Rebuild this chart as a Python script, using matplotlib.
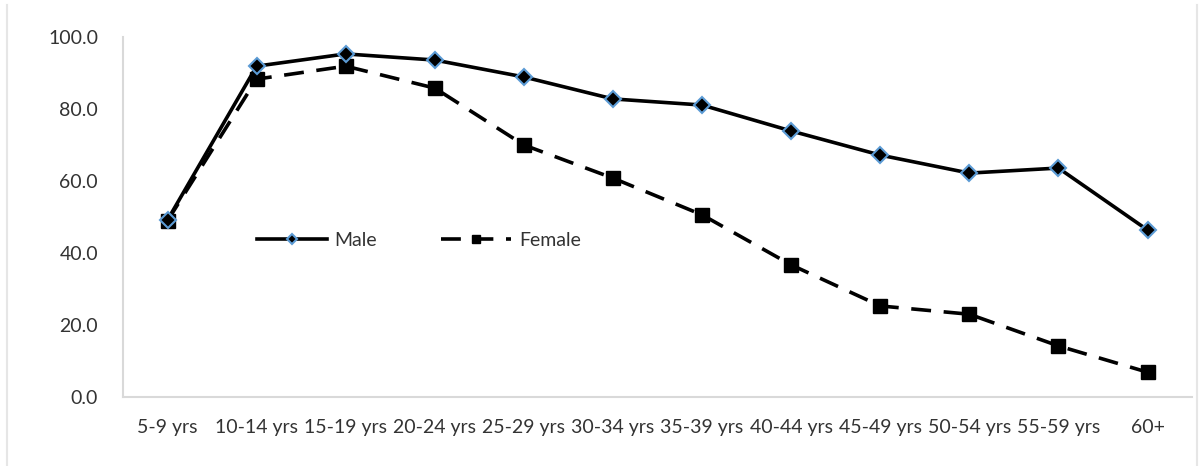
import matplotlib.pyplot as plt
from matplotlib.lines import Line2D

# Data
age_groups = ["5-9 yrs", "10-14 yrs", "15-19 yrs", "20-24 yrs", "25-29 yrs",
              "30-34 yrs", "35-39 yrs", "40-44 yrs", "45-49 yrs", "50-54 yrs",
              "55-59 yrs", "60+"]
male = [49.2, 91.9, 95.3, 93.6, 88.9, 82.8, 81.1, 73.9, 67.2, 62.2, 63.6, 46.4]
female = [49.0, 88.3, 91.9, 85.8, 70.0, 60.8, 50.6, 36.7, 25.3, 23.0, 14.2, 6.9]
y_ticks = [0, 20, 40, 60, 80, 100]

plt.rcParams['font.family'] = ['Lato', 'DejaVu Sans']

fig = plt.figure(figsize=(11.99, 4.66), dpi=100)
ax = fig.add_axes([0.1026, 0.148, 0.8916, 0.7726])

x = range(len(age_groups))
ax.plot(x, male, color='black', linestyle='-', linewidth=2.6, marker='D',
        markersize=8, markerfacecolor='black', markeredgecolor='#5b9bd5',
        markeredgewidth=1.5, label='Male', zorder=3)
ax.plot(x, female, color='black', linestyle=(0, (5.5, 3.5)), linewidth=2.6,
        marker='s', markersize=10, markerfacecolor='black',
        markeredgecolor='black', label='Female', zorder=2)

ax.set_xlim(-0.5, len(age_groups) - 0.5)
ax.set_ylim(0, 100)
ax.set_xticks(list(x))
ax.set_xticklabels(age_groups)
ax.set_yticks(y_ticks)
ax.set_yticklabels([f"{v:.1f}" for v in y_ticks])
ax.tick_params(axis='x', length=0, pad=16, labelsize=14, labelcolor='#333333')
ax.tick_params(axis='y', length=0, pad=18, labelsize=14, labelcolor='#333333')

for side in ['top', 'right']:
    ax.spines[side].set_visible(False)
for side in ['left', 'bottom']:
    ax.spines[side].set_color('#d9d9d9')
    ax.spines[side].set_linewidth(1.5)

leg = ax.legend(loc='center left', bbox_to_anchor=(0.125, 0.436), ncol=2,
                frameon=False, fontsize=14, handlelength=3.6,
                handletextpad=0.4, columnspacing=3.3, markerscale=0.6,
                borderpad=0, borderaxespad=0)
for t in leg.get_texts():
    t.set_color('#333333')

# faint outer chart border
for xf in [7 / 1199, 1197 / 1199]:
    fig.add_artist(Line2D([xf, xf], [0, 461 / 466], color='#e6e6e6',
                          linewidth=1.5, transform=fig.transFigure))

plt.savefig('out.png', dpi=100)
